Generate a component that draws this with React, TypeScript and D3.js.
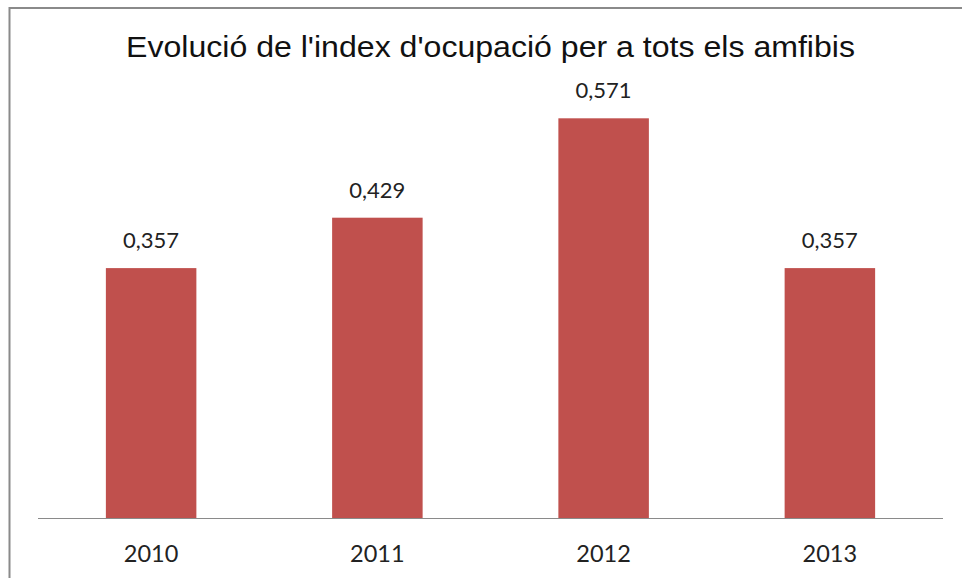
import React from "react";
import * as d3 from "d3";

const years = ["2010", "2011", "2012", "2013"];
const values = [0.357, 0.429, 0.571, 0.357];
const valueLabels = ["0,357", "0,429", "0,571", "0,357"];
const title = "Evolució de l'index d'ocupació per a tots els amfibis";

export default function App() {
  const W = 962, H = 578;
  const x0 = 38, x1 = 943, baseY = 518;
  const x = d3.scaleBand<string>().domain(years).range([x0, x1]).paddingInner(0.6).paddingOuter(0.3);
  const y = d3.scaleLinear().domain([0, 0.6]).range([baseY, baseY - 0.6 * 700]);
  const labelFont = "Lato, 'Open Sans', sans-serif";
  return (
    <div style={{ position: "absolute", left: 0, top: 0 }}>
      <svg width={W} height={H} style={{ display: "block" }}>
        <rect x={0} y={0} width={W} height={H} fill="#fff" />
        <rect x={9.5} y={8} width={1200} height={1200} fill="#fff" stroke="#8a8a8a" strokeWidth={2} />
        <text x={126} y={57} fontFamily="'Liberation Sans', Arial, sans-serif" fontSize={29} fill="#111"
          textLength={729} lengthAdjust="spacingAndGlyphs">
          {title}
        </text>
        {years.map((yr, i) => (
          <g key={yr}>
            <rect x={x(yr)} y={y(values[i])} width={x.bandwidth()} height={baseY - y(values[i])} fill="#C0504D" />
            <text x={(x(yr) as number) + x.bandwidth() / 2} y={y(values[i]) - 20} textAnchor="middle" fontFamily={labelFont} fontSize={22} fill="#222">
              {valueLabels[i]}
            </text>
            <text x={(x(yr) as number) + x.bandwidth() / 2} y={562} textAnchor="middle" fontFamily={labelFont} fontSize={23.5} fill="#222">
              {yr}
            </text>
          </g>
        ))}
        <line x1={x0} x2={x1} y1={baseY + 0.5} y2={baseY + 0.5} stroke="#8a8a8a" strokeWidth={1.2} />
      </svg>
    </div>
  );
}
